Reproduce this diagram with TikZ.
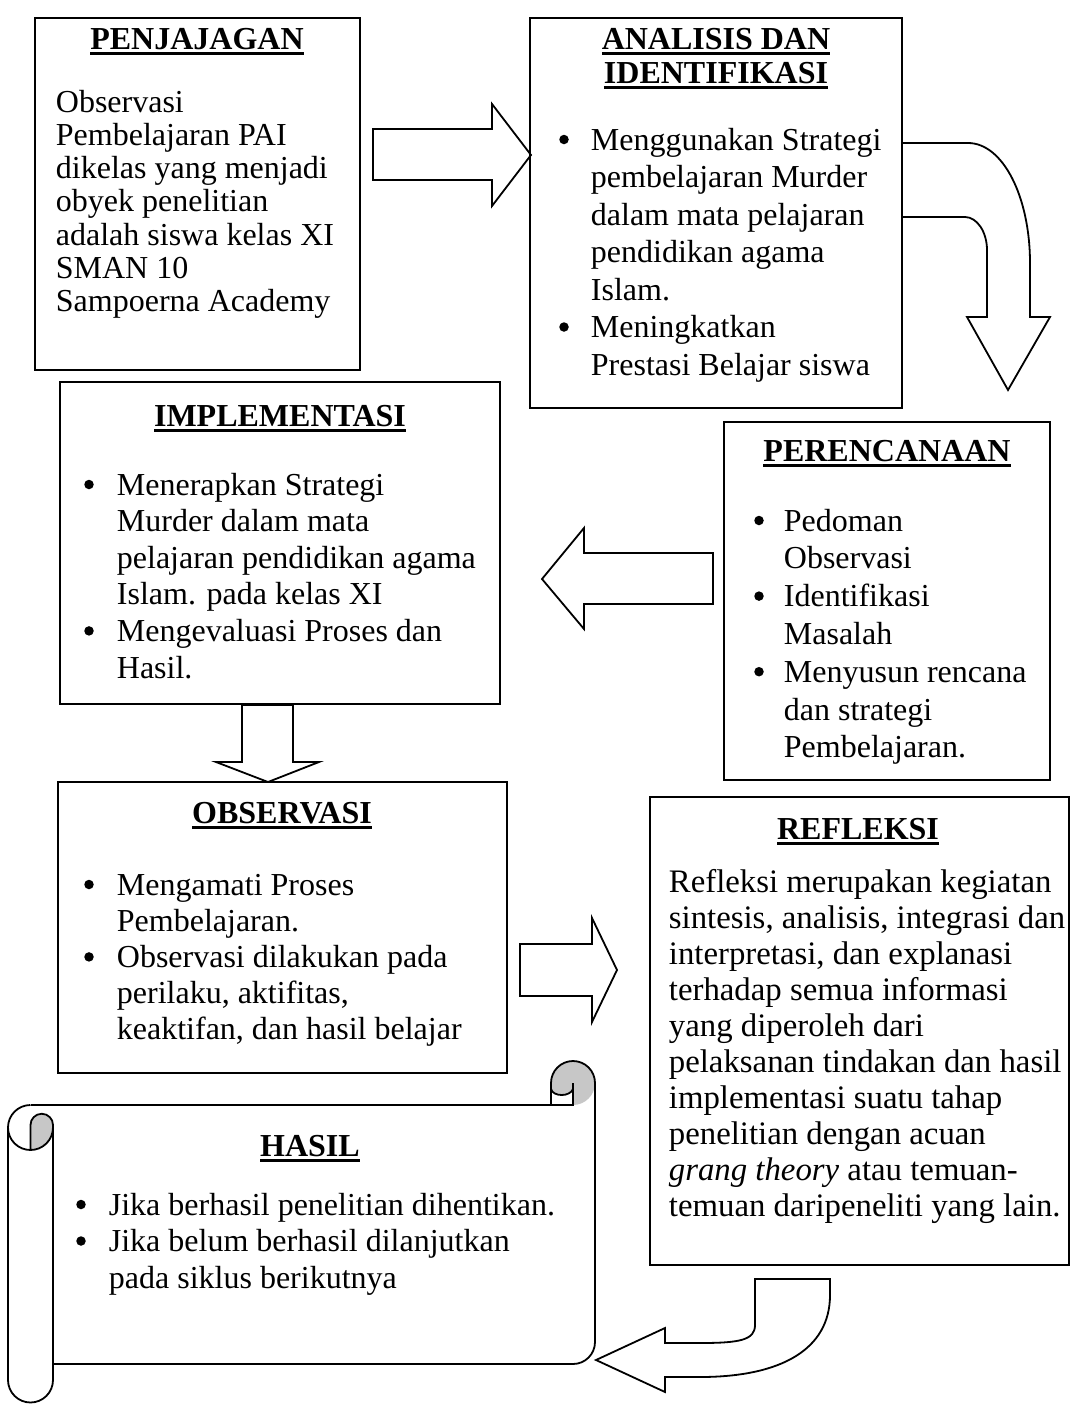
\documentclass[tikz,border=0pt]{standalone}
\usepackage{fontspec}
\setmainfont{Liberation Serif}
\newcommand\tul[1]{\setbox0=\hbox{#1}\rlap{\rule[-6pt]{\wd0}{3pt}}\box0}
\begin{document}
\begin{tikzpicture}[x=1pt,y=-1pt, line width=1.8pt, line join=miter,
  box/.style={draw, rectangle, inner sep=0pt, outer sep=0pt, anchor=north west},
  ttl/.style={anchor=base, inner sep=0pt, font=\fontsize{32}{34}\selectfont\bfseries},
  body/.style={anchor=base west, align=left, inner sep=0pt, font=\fontsize{32}{#1}\selectfont},
  bul/.style={circle, fill=black, draw=none, inner sep=0pt, minimum size=9.5pt, yshift=10.5pt},
  blk/.style={draw, fill=white},
  curl/.style={draw, fill=black!22}]
\useasboundingbox (0,0) rectangle (1071,1406);

% ---- block arrows ----
\draw[blk] (373,129) -- (492,129) -- (492,104) -- (531,155) -- (492,206) -- (492,180) -- (373,180) -- cycle;
\draw[blk] (902,143) -- (968,143) .. controls (1003,143) and (1030,197) .. (1030,263) -- (1030,317) -- (1050,317) -- (1008,390) -- (967,317) -- (987,317) -- (987,250) .. controls (987,232) and (977,217) .. (965,217) -- (902,217);
\draw[blk] (713,553) -- (584,553) -- (584,528) -- (542,579) -- (584,629) -- (584,604) -- (713,604) -- cycle;
\draw[blk] (242,705) -- (293,705) -- (293,762) -- (319,762) -- (268,782) -- (216,762) -- (242,762) -- cycle;
\draw[blk] (520,944) -- (592,944) -- (592,918) -- (617,970) -- (592,1022) -- (592,996) -- (520,996) -- cycle;
\draw[blk] (755,1279) -- (830,1279) -- (830,1295) .. controls (830,1350) and (780,1377) .. (700,1377) -- (665,1377) -- (665,1392) -- (596,1360) -- (665,1328) -- (665,1343) -- (700,1343) .. controls (740,1343) and (755,1340) .. (755,1325) -- cycle;

% ---- boxes ----
\node[box, minimum width=325pt, minimum height=352pt] (pen) at (35,18) {};
\node[box, minimum width=372pt, minimum height=390pt] (ana) at (530,18) {};
\node[box, minimum width=440pt, minimum height=322pt] (imp) at (60,382) {};
\node[box, minimum width=326pt, minimum height=358pt] (per) at (724,422) {};
\node[box, minimum width=449pt, minimum height=291pt] (obs) at (58,782) {};
\node[box, minimum width=419pt, minimum height=468pt] (ref) at (650,797) {};

% ---- scroll (HASIL) ----
\draw (30.5,1105) -- (551,1105);
\fill[black!22] (573,1083) circle[radius=22];
\draw (551,1105) -- (551,1083) .. controls (551,1070.85) and (560.85,1061) .. (573,1061) .. controls (585.15,1061) and (595,1070.85) .. (595,1083) -- (595,1342) .. controls (595,1354.15) and (585.15,1364) .. (573,1364) -- (53,1364);
\draw[fill=white] (551,1105) -- (551,1089) .. controls (553,1097) and (570,1097) .. (573,1089) -- (573,1105) -- cycle;
\draw (573,1090) -- (573,1083);
\draw (30.5,1105) .. controls (18.07,1105) and (8,1115.07) .. (8,1127.5) .. controls (8,1139.93) and (18.07,1150) .. (30.5,1150);
\draw[curl] (30.5,1150) -- (30.5,1125) .. controls (30.5,1118.79) and (35.54,1113.75) .. (41.75,1113.75) .. controls (47.96,1113.75) and (53,1118.79) .. (53,1125) -- (53,1127.5) .. controls (53,1139.93) and (42.93,1150) .. (30.5,1150) -- cycle;
\draw (8,1127.5) -- (8,1380) .. controls (8,1392.43) and (18.07,1402.5) .. (30.5,1402.5) .. controls (42.93,1402.5) and (53,1392.43) .. (53,1380) -- (53,1125);

% ---- texts (multi-line nodes are placed by the baseline of their last line) ----
\node[ttl] (penH) at (197,49) {\tul{PENJAJAGAN}};
\node[body=33.3] (penT) at (55,311.8) {Observasi\\Pembelajaran PAI\\dikelas yang menjadi\\obyek penelitian\\adalah siswa kelas XI\\SMAN 10\\Sampoerna Academy};

\node[ttl] (anaH1) at (716,49) {\tul{ANALISIS DAN}};
\node[ttl] (anaH2) at (716,83) {\tul{IDENTIFIKASI}};
\node[bul] (anaB1) at (564,150) {};
\node[body=37.5] (anaT1) at (590,300) {Menggunakan Strategi\\pembelajaran Murder\\dalam mata pelajaran\\pendidikan agama\\Islam.};
\node[bul] (anaB2) at (564,337.5) {};
\node[body=37.5] (anaT2) at (590,375) {Meningkatkan\\Prestasi Belajar siswa};

\node[ttl] (impH) at (280,426) {\tul{IMPLEMENTASI}};
\node[bul] (impB1) at (89,495) {};
\node[body=36.6] (impT1) at (116,604.8) {Menerapkan Strategi\\Murder dalam mata\\pelajaran pendidikan agama\\Islam. pada kelas XI};
\node[bul] (impB2) at (89,641.4) {};
\node[body=36.6] (impT2) at (116,678) {Mengevaluasi Proses dan\\Hasil.};

\node[ttl] (perH) at (887,461) {\tul{PERENCANAAN}};
\node[bul] (perB1) at (759,531) {};
\node[body=37.8] (perT1) at (783,568.8) {Pedoman\\Observasi};
\node[bul] (perB2) at (759,606.6) {};
\node[body=37.8] (perT2) at (783,644.4) {Identifikasi\\Masalah};
\node[bul] (perB3) at (759,682.2) {};
\node[body=37.8] (perT3) at (783,757.8) {Menyusun rencana\\dan strategi\\Pembelajaran.};

\node[ttl] (obsH) at (282,823) {\tul{OBSERVASI}};
\node[bul] (obsB1) at (89,895) {};
\node[body=36.2] (obsT1) at (116,931.2) {Mengamati Proses\\Pembelajaran.};
\node[bul] (obsB2) at (89,967.4) {};
\node[body=36.2] (obsT2) at (116,1039.8) {Observasi dilakukan pada\\perilaku, aktifitas,\\keaktifan, dan hasil belajar};

\node[ttl] (refH) at (858,839) {\tul{REFLEKSI}};
\node[anchor=base west, align=left, inner sep=0pt, font=\fontsize{32.8}{36}\selectfont] (refT) at (668,1216) {Refleksi merupakan kegiatan\\sintesis, analisis, integrasi dan\\interpretasi, dan explanasi\\terhadap semua informasi\\yang diperoleh dari\\pelaksanan tindakan dan hasil\\implementasi suatu tahap\\penelitian dengan acuan\\\textit{grang theory} atau temuan-\\temuan daripeneliti yang lain.};

\node[ttl] (hasH) at (310,1156) {\tul{HASIL}};
\node[bul] (hasB1) at (81,1215) {};
\node[body=36.5] (hasT1) at (108,1215) {Jika berhasil penelitian dihentikan.};
\node[bul] (hasB2) at (81,1251.5) {};
\node[body=36.5] (hasT2) at (108,1288) {Jika belum berhasil dilanjutkan\\pada siklus berikutnya};
\end{tikzpicture}
\end{document}
